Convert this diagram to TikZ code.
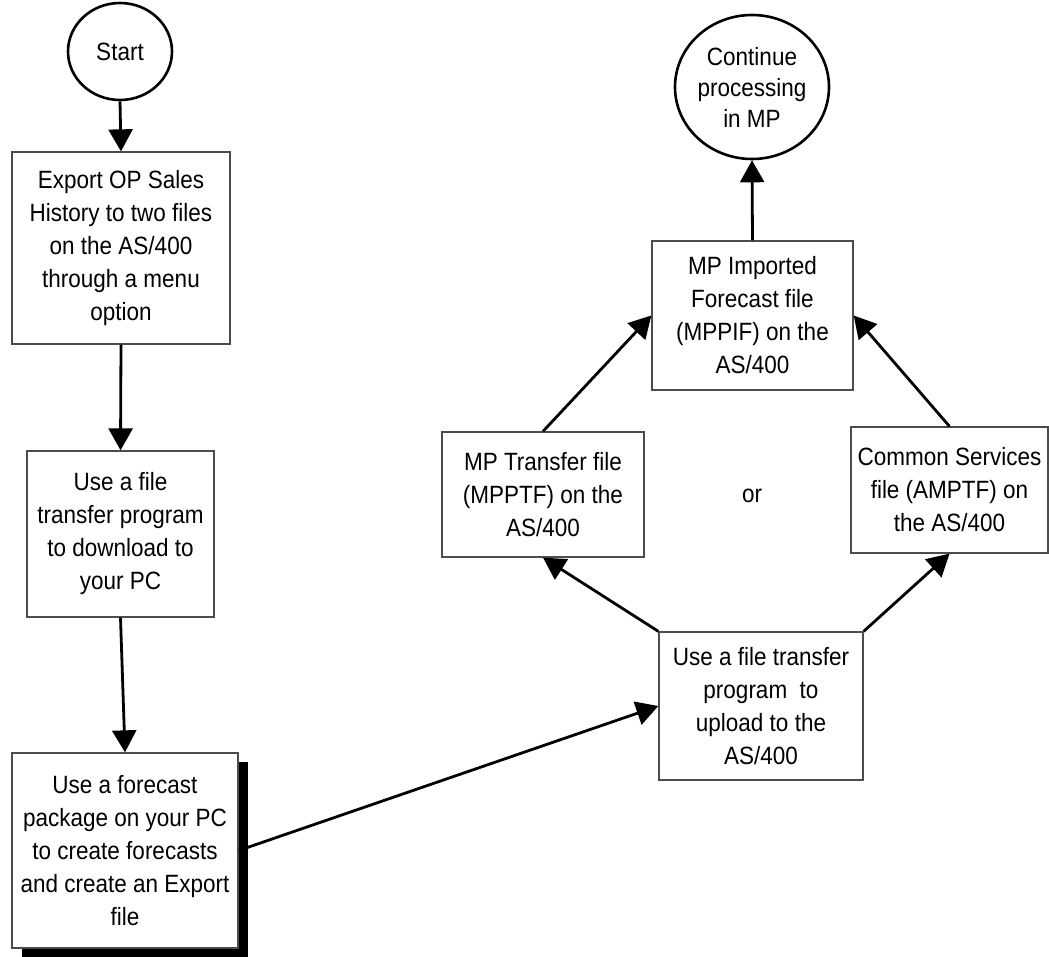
\documentclass[tikz,border=0pt]{standalone}
\usepackage{fontspec}
\setmainfont{Liberation Sans}[FakeStretch=0.9]
\usetikzlibrary{arrows.meta,shapes.geometric,shadows}
\begin{document}
\begin{tikzpicture}[x=1pt,y=-1pt,
  every node/.style={font=\fontsize{25pt}{33pt}\selectfont, align=center, inner sep=0pt},
  stepbox/.style={draw=black!70, line width=1.3pt, fill=white, rectangle},
  term/.style={draw=black, line width=2.6pt, fill=white, ellipse},
  flow/.style={draw=black, line width=2.8pt, -{Triangle[length=22pt,width=24pt]}},
  heavyshadow/.style={drop shadow={shadow xshift=10pt, shadow yshift=-9pt, fill=black, opacity=1}},
]
\useasboundingbox (0,0) rectangle (1049,957);

% terminals
\node[term, minimum width=104pt, minimum height=97pt] (start) at (120,51.5) {Start};
\node[term, minimum width=154pt, minimum height=144pt, font=\fontsize{25pt}{31pt}\selectfont] (cont) at (752,87) {Continue\\processing\\in MP};

% left column
\node[stepbox, minimum width=218pt, minimum height=192pt] (export) at (121,248)
  {Export OP Sales\\History to two files\\on the AS/400\\through a menu\\option};
\node[stepbox, minimum width=187pt, minimum height=166pt] (download) at (120.5,534)
  {Use a file\\transfer program\\to download to\\your PC};
\node[stepbox, heavyshadow, minimum width=226pt, minimum height=195pt] (forecast) at (125,850.5)
  {Use a forecast\\package on your PC\\to create forecasts\\and create an Export\\file};

% right side
\node[stepbox, minimum width=204pt, minimum height=148pt] (upload) at (761,706)
  {Use a file transfer\\program\ \ to\\upload to the\\AS/400};
\node[stepbox, minimum width=202pt, minimum height=125pt] (mpptf) at (543,494.5)
  {MP Transfer file\\(MPPTF) on the\\AS/400};
\node[stepbox, minimum width=197pt, minimum height=126pt] (amptf) at (949.5,490)
  {Common Services\\file (AMPTF) on\\the AS/400};
\node[stepbox, minimum width=201pt, minimum height=149pt] (mppif) at (752.5,315.5)
  {MP Imported\\Forecast file\\(MPPIF) on the\\AS/400};
\node (or) at (752,496) {or};

% connectors
\draw[flow] (start.south) -- (export.north);
\draw[flow] (export.south) -- (download.north);
\draw[flow] (download.south) -- (forecast.north);
\draw[flow] (forecast.east) -- (upload.west);
\draw[flow] (upload.north west) -- (mpptf.south);
\draw[flow] (upload.north east) -- (amptf.south);
\draw[flow] (mpptf.north) -- (mppif.west);
\draw[flow] (amptf.north) -- (mppif.east);
\draw[flow] (mppif.north) -- (cont.south);
\end{tikzpicture}
\end{document}
